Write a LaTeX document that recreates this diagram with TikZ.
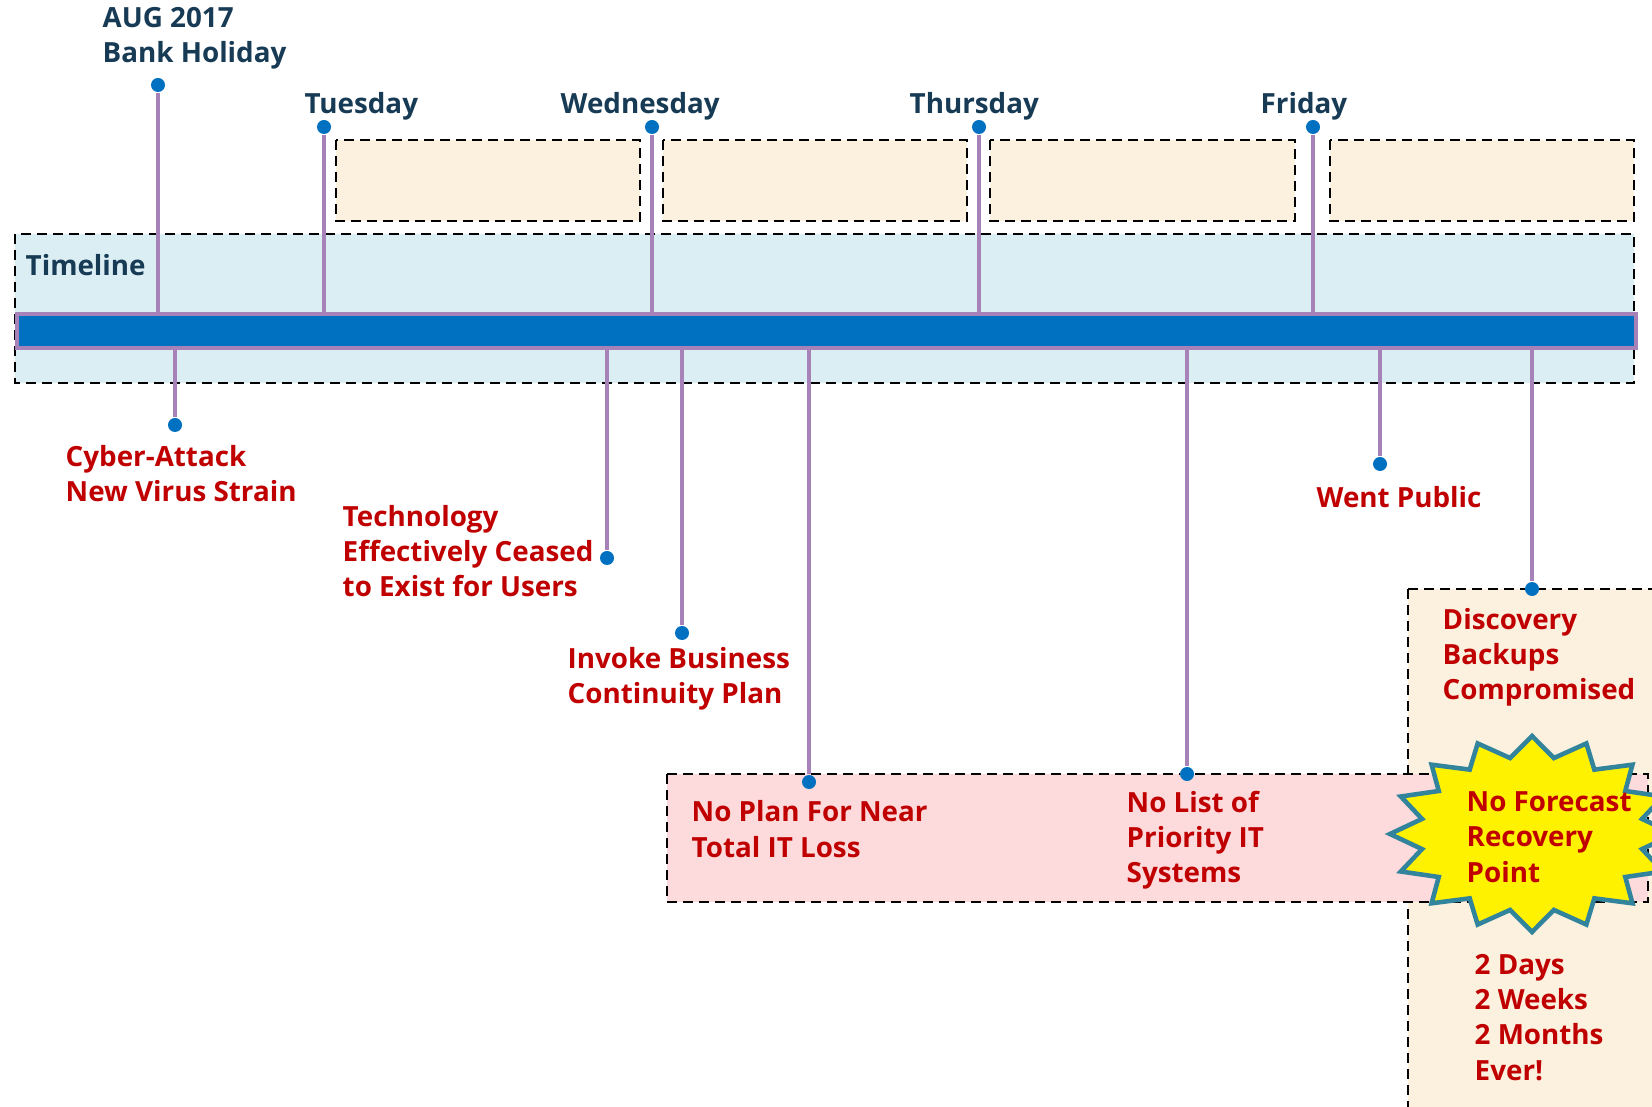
\documentclass[tikz,border=0pt]{standalone}
\usepackage{fontspec}
\setmainfont{Open Sans}
\definecolor{navytxt}{HTML}{173A55}
\definecolor{alertred}{HTML}{C00000}
\definecolor{barblue}{HTML}{0070C0}
\definecolor{stempurple}{HTML}{A782B9}
\definecolor{skyfill}{HTML}{DBEEF4}
\definecolor{tanfill}{HTML}{FBF1DE}
\definecolor{pinkfill}{HTML}{FDDADB}
\definecolor{starteal}{HTML}{31849B}
\begin{document}
\begin{tikzpicture}[x=0.01cm, y=-0.01cm,
  dot/.style={circle, fill=barblue, inner sep=0pt, minimum size=0.14cm},
  stem/.style={draw=stempurple, line width=1.14pt},
  dashbox/.style={draw=black, line width=0.7pt, dash pattern=on 2.85pt off 1.7pt},
  daylbl/.style={font=\fontsize{7.9}{9.96}\selectfont\bfseries, text=navytxt, anchor=base west, inner sep=0pt, align=left},
  redlbl/.style={daylbl, text=alertred}]
\clip (0,0) rectangle (1652,1107);
% timeline band and day boxes
\draw[dashbox, fill=skyfill] (15,234) rectangle (1634,383);
\foreach \xa/\xb in {336/640, 663/967, 990/1295, 1330/1634}
  \draw[dashbox, fill=tanfill] (\xa,140) rectangle (\xb,221);
\node[draw=stempurple, line width=1.14pt, fill=barblue, minimum width=16.18cm, minimum height=0.34cm, inner sep=0pt, anchor=north west] (bar) at (15,312) {};
\node[daylbl] (timeline) at (25,276) {Timeline};
% days above the bar
\node[dot] (d-aug) at (158,85) {};
\node[dot] (d-tue) at (324,127) {};
\node[dot] (d-wed) at (652,127) {};
\node[dot] (d-thu) at (979,127) {};
\node[dot] (d-fri) at (1313,127) {};
\foreach \d in {aug, tue, wed, thu, fri}
  \draw[stem] (d-\d.south) -- (d-\d |- bar.north);
\node[daylbl] (l-aug) at (102,63) {AUG 2017\\Bank Holiday};
\node[daylbl] (l-tue) at (304,114) {Tuesday};
\node[daylbl] (l-wed) at (560,114) {Wednesday};
\node[daylbl] (l-thu) at (909,114) {Thursday};
\node[daylbl] (l-fri) at (1260,114) {Friday};
% lower boxes
\draw[dashbox, fill=tanfill] (1408,589) rectangle (1700,1150);
\draw[dashbox, fill=pinkfill] (667,774) rectangle (1648,902);
% events below the bar
\node[dot] (d-cyber) at (175,425) {};
\node[dot] (d-tech) at (607,558) {};
\node[dot] (d-bcp) at (682,633) {};
\node[dot] (d-plan) at (809,782) {};
\node[dot] (d-list) at (1187,774) {};
\node[dot] (d-public) at (1380,464) {};
\node[dot] (d-backup) at (1532,589) {};
\foreach \d in {cyber, tech, bcp, plan, list, public, backup}
  \draw[stem] (bar.south -| d-\d) -- (d-\d.north);
\node[redlbl] (l-cyber) at (65,502) {Cyber-Attack\\New Virus Strain};
\node[redlbl] (l-tech) at (342,597) {Technology\\Effectively Ceased\\to Exist for Users};
\node[redlbl] (l-bcp) at (567,704) {Invoke Business\\Continuity Plan};
\node[redlbl] (l-plan) at (691,857) {No Plan For Near\\Total IT Loss};
\node[redlbl] (l-list) at (1126,883) {No List of\\Priority IT\\Systems};
\node[redlbl] (l-public) at (1316,508) {Went Public};
\node[redlbl] (l-backup) at (1442,700) {Discovery\\Backups\\Compromised};
% recovery star
\draw[draw=starteal, line width=1.3pt, fill=yellow]
  plot[domain=0:32, samples=33] ({1532+142*(1-0.21*mod(\x,2))*cos(90+11.25*\x)}, {834-98*(1-0.21*mod(\x,2))*sin(90+11.25*\x)}) -- cycle;
\node[redlbl] (l-star) at (1466,882) {No Forecast\\Recovery\\Point};
\node[redlbl] (l-times) at (1474,1080) {2 Days\\2 Weeks\\2 Months\\Ever!};
\end{tikzpicture}
\end{document}
